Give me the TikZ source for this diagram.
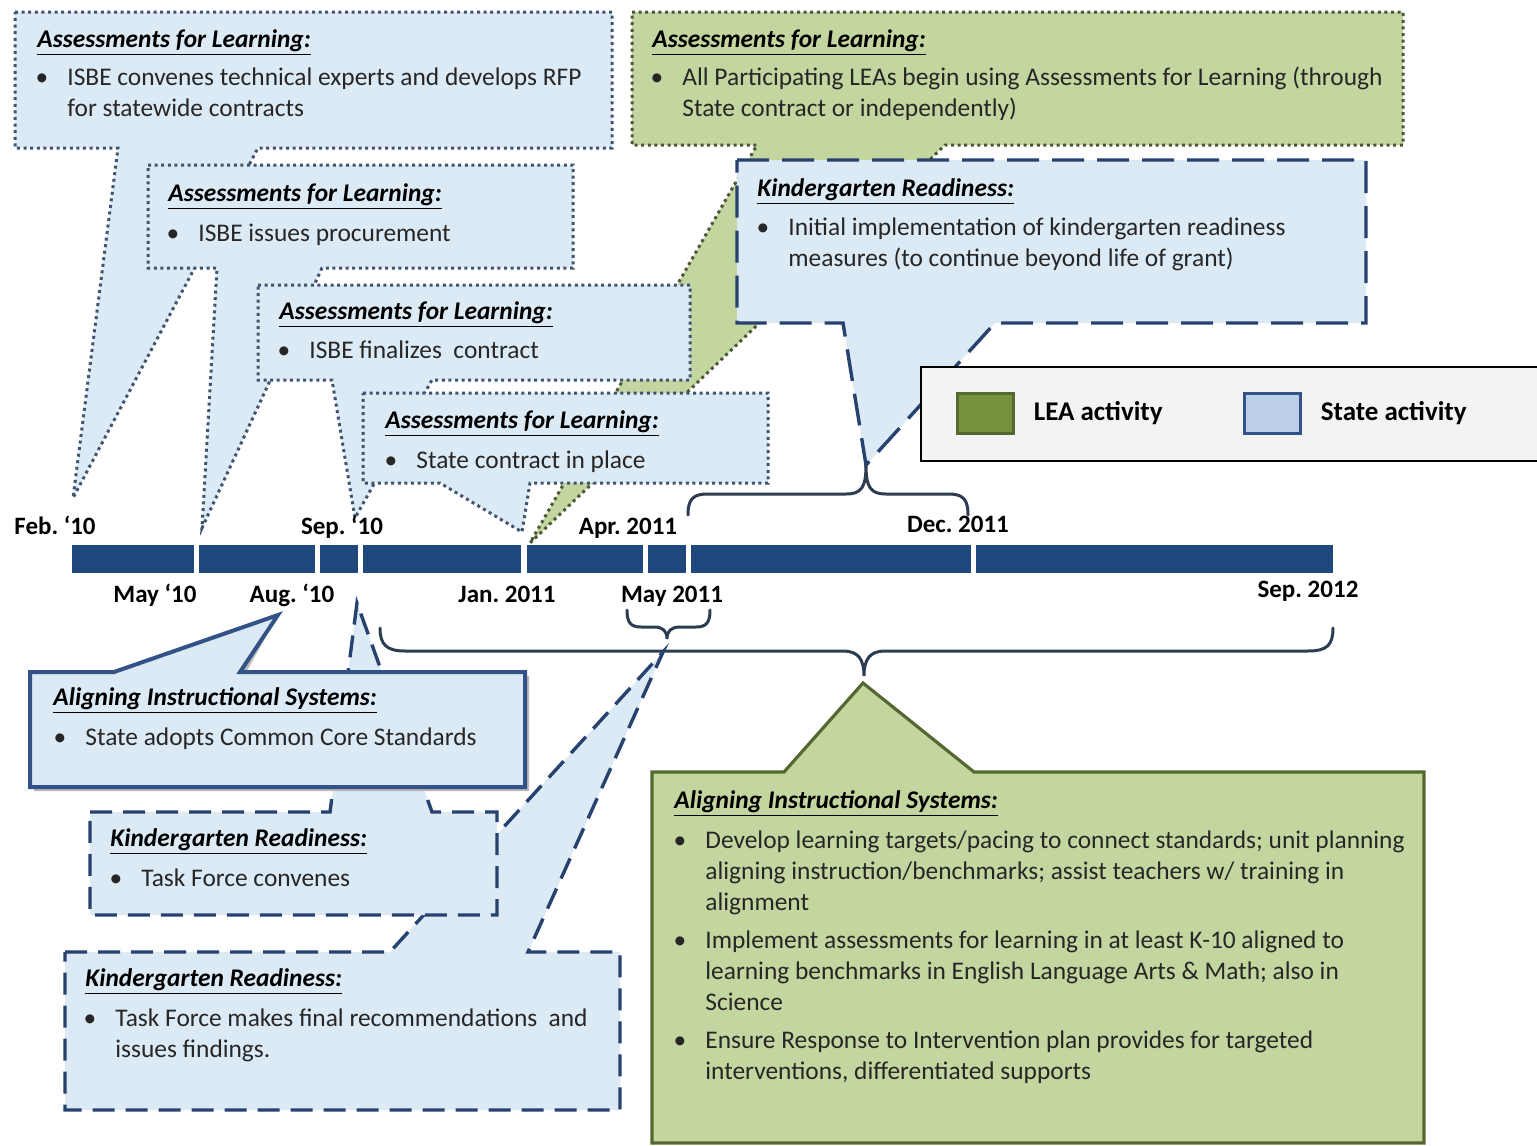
\documentclass[tikz,border=0pt]{standalone}
\usepackage{fontspec}
\setmainfont{Carlito}
\usetikzlibrary{positioning}
\frenchspacing
\definecolor{statefill}{RGB}{220,234,245}
\definecolor{leafill}{RGB}{196,214,159}
\definecolor{dotblue}{RGB}{64,84,112}
\definecolor{dotolive}{RGB}{74,88,54}
\definecolor{dashnavy}{RGB}{40,66,112}
\definecolor{solidnavy}{RGB}{50,82,136}
\definecolor{leaedge}{RGB}{86,104,50}
\definecolor{barblue}{RGB}{31,72,124}
\definecolor{bracegray}{RGB}{46,60,82}
\definecolor{legendbg}{RGB}{243,243,243}
\definecolor{leaswatch}{RGB}{118,146,60}
\definecolor{stateswatch}{RGB}{188,207,232}
\newcommand{\boxfont}{\fontsize{12.7}{15.5}\selectfont}
\newcommand{\stack}[1]{\begin{tabular}[t]{@{}l@{}}#1\end{tabular}}
\newcommand{\callouthead}[4]{%
  \node[headtext] (#1) at (#2,#3) {\underline{#4}};
}
\newcommand{\calloutitem}[4]{%
  % bullet hangs one tab left of its text
  \node[bullettext] (#1dot) at (#2-25,#3) {\textbullet};
  \node[bodytext] (#1) at (#2,#3) {\stack{#4}};
}

\begin{document}
\begin{tikzpicture}[x=0.5pt,y=-0.5pt,
    dotbox/.style={fill=statefill,draw=dotblue,line width=1.5pt,dash pattern=on 1.5pt off 1.8pt},
    leadotbox/.style={fill=leafill,draw=dotolive,line width=1.5pt,dash pattern=on 1.5pt off 1.8pt},
    dashbox/.style={fill=statefill,draw=dashnavy,line width=1.7pt,dash pattern=on 11pt off 5.5pt},
    longdashbox/.style={dashbox,dash pattern=on 16pt off 6.5pt},
    solidbox/.style={fill=statefill,draw=solidnavy,line width=2pt},
    leabox/.style={fill=leafill,draw=leaedge,line width=1.6pt},
    headtext/.style={anchor=base west,inner sep=0pt,font=\boxfont\bfseries\itshape},
    bodytext/.style={anchor=base west,inner sep=0pt,font=\boxfont,text=black!85},
    bullettext/.style={anchor=base,inner sep=0pt,font=\boxfont,text=black!85},
    datetext/.style={anchor=base,inner sep=0pt,font=\fontsize{12.5}{15}\selectfont\bfseries},
    keybox/.style={minimum width=28pt,minimum height=20pt,line width=1.5pt,inner sep=0pt},
    keytext/.style={inner sep=0pt,font=\fontsize{13.5}{16}\selectfont\bfseries},
    bracepath/.style={draw=bracegray,line width=1.5pt,line cap=round}]
  \useasboundingbox (0,0) rectangle (1537,1146);

  % pointer tips
  \coordinate (tipG1) at (530,543);
  \coordinate (tipA1) at (73,498);
  \coordinate (tipA2) at (202,528);
  \coordinate (tipA3) at (355,518);
  \coordinate (tipA4) at (522,532);
  \coordinate (kbrace) at (866,465);
  \coordinate (tipS1) at (278,615);
  \coordinate (tipK2) at (357,603);
  \coordinate (mbrace) at (663,652);
  \coordinate (bbrace) at (863,683);

  % callouts above the timeline
  \draw[leadotbox] (632,12) -- (1403,12) -- (1403,145) -- (945,145) -- (tipG1)
    -- (757,145) -- (632,145) -- cycle;
  \callouthead{g1head}{652}{47}{Assessments for Learning:}
  \calloutitem{g1item}{682}{85}{All Participating LEAs begin using Assessments for Learning (through\\State contract or independently)}

  \draw[dotbox] (15,12) -- (612,12) -- (612,148) -- (258,148) -- (tipA1)
    -- (118,148) -- (15,148) -- cycle;
  \callouthead{a1head}{37}{47}{Assessments for Learning:}
  \calloutitem{a1item}{67}{85}{ISBE convenes technical experts and develops RFP\\for statewide contracts}

  \draw[dotbox] (148,165) -- (573,165) -- (573,268) -- (322,268) -- (tipA2)
    -- (217,268) -- (148,268) -- cycle;
  \callouthead{a2head}{168}{201}{Assessments for Learning:}
  \calloutitem{a2item}{198}{241}{ISBE issues procurement}

  \draw[dotbox] (258,285) -- (690,285) -- (690,380) -- (432,380) -- (tipA3)
    -- (332,380) -- (258,380) -- cycle;
  \callouthead{a3head}{279}{319}{Assessments for Learning:}
  \calloutitem{a3item}{309}{358}{ISBE finalizes\ \ contract}

  \draw[dotbox] (363,393) -- (768,393) -- (768,483) -- (530,483) -- (tipA4)
    -- (440,483) -- (363,483) -- cycle;
  \callouthead{a4head}{385}{428}{Assessments for Learning:}
  \calloutitem{a4item}{416}{468}{State contract in place}

  \draw[longdashbox] (737,160) -- (1366,160) -- (1366,323) -- (995,323) -- (kbrace)
    -- (843,323) -- (737,323) -- cycle;
  \callouthead{k1head}{757}{196}{Kindergarten Readiness:}
  \calloutitem{k1item}{788}{235}{Initial implementation of kindergarten readiness\\measures (to continue beyond life of grant)}

  % legend
  \draw[fill=legendbg,draw=black,line width=0.8pt] (921,367) rectangle (1545,461);
  \node[keybox,fill=leaswatch,draw=leaedge] (leakey) at (985,413) {};
  \node[keytext,right=9.5pt of leakey] (lealabel) {LEA activity};
  \node[keybox,fill=stateswatch,draw=solidnavy] (statekey) at (1272,413) {};
  \node[keytext,right=9.5pt of statekey] (statelabel) {State activity};

  % timeline
  \foreach \a/\b in {72/194,199/315,320/358,363/521,527/643,648/686,691/971,976/1333}
    \fill[barblue] (\a,545) rectangle (\b,573);
  \node[datetext] (feb10) at (55,534) {Feb. ‘10};
  \node[datetext] (sep10) at (342,534) {Sep. ‘10};
  \node[datetext] (apr11) at (628,534) {Apr. 2011};
  \node[datetext] (dec11) at (958,532) {Dec. 2011};
  \node[datetext] (may10) at (155,602) {May ‘10};
  \node[datetext] (aug10) at (292,602) {Aug. ‘10};
  \node[datetext] (jan11) at (507,602) {Jan. 2011};
  \node[datetext] (may11) at (672,602) {May 2011};
  \node[datetext] (sep12) at (1308,597) {Sep. 2012};

  % braces
  \draw[bracepath] (688,515) .. controls (688,499) and (693,494) .. (708,494) -- (846,494)
    .. controls (861,494) and (866,488) .. (kbrace) .. controls (866,488) and (871,494) .. (886,494)
    -- (948,494) .. controls (963,494) and (968,499) .. (968,515);
  \draw[bracepath] (627,610) .. controls (627,623) and (631,627) .. (641,627) -- (654,627)
    .. controls (663,627) and (667,631) .. (667,639) .. controls (667,631) and (671,627) .. (680,627)
    -- (696,627) .. controls (706,627) and (710,623) .. (710,610);
  \draw[bracepath] (380,628) .. controls (380,645) and (387,651) .. (405,651) -- (843,651)
    .. controls (858,651) and (864,659) .. (864,676) .. controls (864,659) and (870,651) .. (885,651)
    -- (1308,651) .. controls (1327,651) and (1333,645) .. (1333,628);

  % callouts below the timeline
  \draw[dashbox] (65,952) -- (390,952) -- (mbrace) -- (528,952) -- (620,952)
    -- (620,1110) -- (65,1110) -- cycle;
  \callouthead{k3head}{85}{986}{Kindergarten Readiness:}
  \calloutitem{k3item}{115}{1026}{Task Force makes final recommendations\ \ and\\issues findings.}

  \draw[dashbox] (90,812) -- (330,812) -- (tipK2) -- (432,812) -- (497,812)
    -- (497,915) -- (90,915) -- cycle;
  \callouthead{k2head}{110}{846}{Kindergarten Readiness:}
  \calloutitem{k2item}{141}{886}{Task Force convenes}

  \fill[black!28,shift={(4,4)}] (30,672) -- (114,672) -- (tipS1) -- (240,672) -- (525,672)
    -- (525,787) -- (30,787) -- cycle;
  \draw[solidbox] (30,672) -- (114,672) -- (tipS1) -- (240,672) -- (525,672)
    -- (525,787) -- (30,787) -- cycle;
  \callouthead{s1head}{53}{705}{Aligning Instructional Systems:}
  \calloutitem{s1item}{85}{745}{State adopts Common Core Standards}

  \draw[leabox] (652,772) -- (784,772) -- (bbrace) -- (974,772) -- (1424,772)
    -- (1424,1143) -- (652,1143) -- cycle;
  \callouthead{g2head}{674}{808}{Aligning Instructional Systems:}
  \calloutitem{g2one}{705}{848}{Develop learning targets/pacing to connect standards; unit planning\\aligning instruction/benchmarks; assist teachers w/ training in\\alignment}
  \calloutitem{g2two}{705}{948}{Implement assessments for learning in at least K-10 aligned to\\learning benchmarks in English Language Arts \& Math; also in\\Science}
  \calloutitem{g2three}{705}{1048}{Ensure Response to Intervention plan provides for targeted\\interventions, differentiated supports}
\end{tikzpicture}
\end{document}
